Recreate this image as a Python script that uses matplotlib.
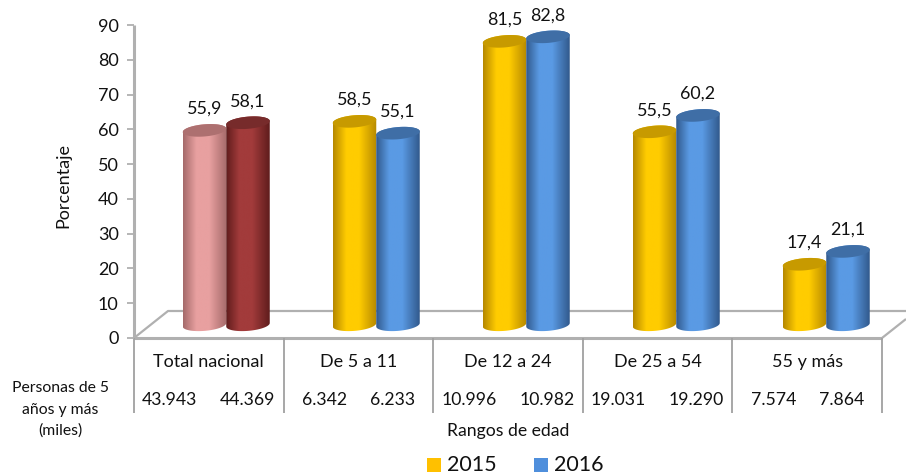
import numpy as np
import matplotlib
matplotlib.use('Agg')
import matplotlib.pyplot as plt
from matplotlib.colors import LinearSegmentedColormap
from matplotlib.lines import Line2D
from matplotlib.patches import Polygon, Rectangle

plt.rcParams['font.family'] = ['Lato', 'DejaVu Sans']

W, H = 906, 475

categorias = ['Total nacional', 'De 5 a 11', 'De 12 a 24', 'De 25 a 54', '55 y más']
valores_2015 = [55.9, 58.5, 81.5, 55.5, 17.4]
valores_2016 = [58.1, 55.1, 82.8, 60.2, 21.1]
personas_2015 = ['43.943', '6.342', '10.996', '19.031', '7.574']
personas_2016 = ['44.369', '6.233', '10.982', '19.290', '7.864']
yticks = list(range(0, 100, 10))

# (borde, centro, tapa)
rosa = ('#a56a6a', '#e8a0a0', '#ad7070')
vino = ('#5f1c1c', '#a23b3b', '#772b2b')
amarillo = ('#b58800', '#ffcc00', '#c79a00')
azul = ('#31598c', '#5a9ae4', '#3f6ea6')
GRIS = '#b0b0b0'


def fx(px):
    return px / W


def fy(py):
    return 1 - py / H


def ftext(px, py, s, **kw):
    kw.setdefault('ha', 'center')
    kw.setdefault('va', 'center')
    kw.setdefault('fontsize', 12.7)
    kw.setdefault('color', '#111111')
    fig.text(fx(px), fy(py), s, **kw)


def fline(xs, ys, lw=1.6, color=GRIS):
    fig.add_artist(Line2D([fx(v) for v in xs], [fy(v) for v in ys], color=color, lw=lw,
                          solid_capstyle='butt'))


def cilindro(ax, centro, valor, colores, ancho=0.29, base=3.8):
    """cilindro con gradiente, base y tapa elipticas un poco inclinadas"""
    a = ancho / 2
    b = 1.75
    k = 0.5
    t = np.linspace(0, 2 * np.pi, 80)
    top = base + valor
    # contorno: arco inferior de la base, subir, arco superior de la tapa
    tb = np.linspace(np.pi, 2 * np.pi, 40)
    tt = np.linspace(0, np.pi, 40)
    xs = np.r_[centro + a * np.cos(tb), centro + a * np.cos(tt)]
    ys = np.r_[base + b * np.sin(tb) + k * np.cos(tb), top + b * np.sin(tt) + k * np.cos(tt)]
    clip = Polygon(np.c_[xs, ys], closed=True, transform=ax.transData, fc='none', ec='none')
    ax.add_patch(clip)
    cmap = LinearSegmentedColormap.from_list('c', [(0, colores[0]), (0.3, colores[1]),
                                                   (0.6, colores[1]), (1, colores[0])])
    im = ax.imshow(np.linspace(0, 1, 128).reshape(1, -1), cmap=cmap, aspect='auto', zorder=3,
                   extent=(centro - a, centro + a, base - 3, top + 3))
    im.set_clip_path(clip)
    ax.add_patch(Polygon(np.c_[centro + a * np.cos(t), top + b * np.sin(t) + k * np.cos(t)],
                         closed=True, fc=colores[2], ec='none', zorder=4))
    return top


fig = plt.figure(figsize=(W / 100, H / 100), dpi=100)
ax = fig.add_axes([fx(134), fy(338), 750 / W, 313 / H])
ax.patch.set_alpha(0)
ax.set_zorder(5)

# suelo 3D
fline([134, 168, 906], [338, 311, 311])
fline([882, 906], [338, 319])
fline([134, 882], [338, 338], lw=2.2)
fline([134, 134], [25, 338], lw=2.2)
for i in range(6):
    fline([134 + i * 149.6] * 2, [338, 413], lw=1.3, color='#a0a0a0')

for i in range(5):
    c1 = i + 0.47
    c2 = i + 0.76
    col1 = rosa if i == 0 else amarillo
    col2 = vino if i == 0 else azul
    t1 = cilindro(ax, c1, valores_2015[i], col1)
    t2 = cilindro(ax, c2, valores_2016[i], col2)
    for c, t, v in ((c1, t1, valores_2015[i]), (c2, t2, valores_2016[i])):
        ax.annotate(f'{v:.1f}'.replace('.', ','), (c, t), xytext=(0, 15.5),
                    textcoords='offset points', ha='center', va='center',
                    fontsize=12.9, color='#111111', annotation_clip=False)

ax.set_xlim(0, 5)
ax.set_ylim(0, 90)
ax.set_xticks([])
ax.set_yticks(yticks)
ax.tick_params(axis='y', length=5, width=1.3, color=GRIS, labelsize=13, pad=6, labelcolor='#111111')
for s in ax.spines.values():
    s.set_visible(False)

ftext(63, 185, 'Porcentaje', rotation=90, fontsize=13)
ftext(508, 431, 'Rangos de edad')
for py, s in zip([388, 410, 431], ['Personas de 5', 'años y más', '(miles)']):
    ftext(60, py, s, fontsize=11.3)

for i in range(5):
    cx = 134 + (i + 0.5) * 149.6
    ftext(cx, 362, categorias[i], fontsize=13)
    d = 39 if len(personas_2015[i]) > 5 else 34
    ftext(cx - d, 400, personas_2015[i])
    ftext(cx + d, 400, personas_2016[i])

# leyenda
for px, color, s in ((427, '#ffc000', '2015'), (534, '#4f8fdc', '2016')):
    fig.add_artist(Rectangle((fx(px), fy(472)), 14 / W, 14 / H, fc=color, ec='none',
                             transform=fig.transFigure))
    ftext(px + 20, 465, s, ha='left', fontsize=15.5)

fig.savefig('out.png', dpi=100)
